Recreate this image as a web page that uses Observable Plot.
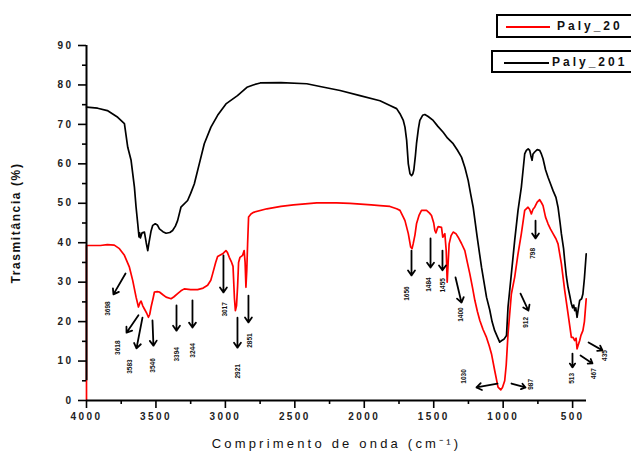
<!DOCTYPE html>
<html><head><meta charset="utf-8">
<script src="https://cdn.jsdelivr.net/npm/d3@7"></script>
<script src="https://cdn.jsdelivr.net/npm/@observablehq/plot@0.6"></script>
<style>
body{margin:0;background:#fff;overflow:hidden}
#wrap{position:relative;width:631px;height:456px;overflow:hidden;font-family:"Liberation Sans",Arial,sans-serif}
#wrap svg{position:absolute;left:0;top:0}
g[aria-label="x-axis tick label"] text, g[aria-label="y-axis tick label"] text{letter-spacing:2.4px;font-weight:bold;fill:#222}
.lg{position:absolute;border:2px solid #000;background:#fff;box-sizing:border-box}
.lg .ln{position:absolute;height:2px}
.lg .tx{position:absolute;font-size:12px;letter-spacing:3px;color:#111;font-weight:bold;line-height:12px}
</style></head><body><div id="wrap"></div><script>
// Series names
const seriesNames = ["Paly_20", "Paly_201"];
const seriesColors = ["#ff0000", "#000000"];

// Paly_20 (red): [wavenumber cm-1, transmittance %]
const paly20 = [
[4000,0],[4000,39.3],[3900,39.3],[3850,39.5],[3800,39.4],[3763,38.5],[3727,36.8],[3691,33.8],[3667,30.4],[3643,26.2],[3626,23.7],[3615,24.8],[3607,25.2],[3595,24],[3583,23.2],[3565,22],[3554,21.1],[3545,21.8],[3535,23.7],[3520,26],[3511,27.5],[3490,27.6],[3475,27.5],[3450,26.8],[3427,26.2],[3391,25.8],[3370,26.3],[3344,27.1],[3320,27.8],[3296,28.3],[3250,28.1],[3200,28.1],[3160,28.5],[3128,29.2],[3105,30.5],[3092,32.1],[3070,35],[3056,36.5],[3020,37.2],[2996,38],[2985,37.5],[2972,36.3],[2955,35],[2945,34],[2935,26],[2928,22.8],[2920,24],[2912,29],[2905,35],[2895,36.3],[2876,36.8],[2865,38],[2858,35],[2852,28.7],[2846,33],[2840,39.7],[2833,46.5],[2816,47.3],[2797,47.7],[2701,48.6],[2600,49.2],[2510,49.6],[2342,50.1],[2200,50.1],[2103,50],[1950,49.6],[1887,49.4],[1815,49.2],[1767,48.6],[1743,48.2],[1719,46.5],[1707,45.6],[1683,42.3],[1666,38.9],[1656,38.5],[1648,39.7],[1635,42],[1624,44.8],[1605,47],[1588,48.2],[1552,48.2],[1530,47.5],[1516,46.9],[1500,45],[1492,43.1],[1484,42.5],[1475,43.5],[1468,44.1],[1444,43.9],[1435,41.4],[1420,42.3],[1410,38],[1403,30],[1396,35],[1389,39.7],[1375,41.8],[1360,42.7],[1340,42.3],[1324,41.4],[1300,39.8],[1276,38],[1258,35],[1240,32.1],[1220,28.5],[1204,25.4],[1185,22.5],[1168,20.3],[1145,18],[1120,16],[1100,13.8],[1084,11.8],[1061,7.6],[1045,4.8],[1037,3.4],[1017,2.7],[1005,3.3],[989,5],[978,9],[965,16.9],[941,27],[917,31.3],[893,37.2],[869,42.3],[845,48.2],[821,49],[810,48.5],[797,47.3],[785,48.5],[773,49],[755,50.3],[737,50.9],[725,50.2],[713,49.4],[695,46.5],[677,44.8],[660,43.5],[641,42.3],[620,41],[605,39.7],[581,34.7],[557,27.9],[533,22],[509,16],[497,16],[485,15.2],[475,15.8],[468,13.1],[460,14],[449,15.2],[440,16.5],[426,17.7],[415,20],[402,25.8]
];

// Paly_201 (black)
const paly201 = [
[4000,74.4],[3920,74.1],[3850,73.5],[3775,71.8],[3727,70.2],[3703,64.2],[3679,60.9],[3655,54.1],[3643,49],[3631,44.8],[3622,41.5],[3617,42.5],[3612,41.2],[3600,42.5],[3583,42.7],[3570,40],[3559,38],[3550,40],[3535,43],[3523,44.4],[3505,44.8],[3490,44.5],[3475,43.5],[3450,42.8],[3427,42.4],[3400,42.6],[3380,43.1],[3360,44.2],[3344,45.6],[3320,49],[3272,50.7],[3250,52.5],[3224,54.9],[3188,60],[3152,65.1],[3104,69.3],[3056,72.3],[2996,75.2],[2913,77.3],[2845,79.4],[2800,80],[2749,80.5],[2600,80.6],[2414,80.3],[2318,79.6],[2174,78.6],[2031,77.3],[1887,76],[1815,74.8],[1767,74],[1743,72.7],[1719,71],[1707,69.3],[1695,66],[1683,60],[1671,57.5],[1659,57],[1650,57.5],[1643,58.5],[1632,62],[1624,65.1],[1610,69],[1600,71],[1580,72.3],[1564,72.5],[1540,72],[1504,71],[1470,69.5],[1432,68],[1400,66.5],[1360,65.1],[1330,63.5],[1300,61.7],[1275,59],[1252,55.8],[1235,52.5],[1216,49],[1187,41.4],[1156,33.8],[1120,26.2],[1097,23],[1080,20],[1061,17.7],[1040,16],[1025,14.8],[1010,15.2],[995,15.5],[976,16.5],[965,23.7],[941,32.1],[917,40.6],[893,48.2],[869,54.1],[855,59],[845,62.5],[833,63.4],[820,63.8],[809,63.4],[800,62],[792,60.9],[785,62.5],[773,63],[755,63.6],[737,63.4],[725,62.5],[713,61.3],[695,58.5],[677,56.6],[660,55],[641,53.2],[620,51.5],[605,49],[590,45],[581,42.3],[565,38.5],[557,35.5],[545,31.5],[533,28.7],[520,26.5],[509,24.5],[500,23.5],[492,24.2],[485,22.8],[477,23.5],[468,21.1],[458,23.5],[449,25.4],[435,25.8],[426,27],[415,31],[402,37.2]
];

// Tick values
const xTicks = [4000,3500,3000,2500,2000,1500,1000,500];
const xMinor = [3750,3250,2750,2250,1750,1250,750];
const yTicks = [0,10,20,30,40,50,60,70,80,90];
const yMinor = [5,15,25,35,45,55,65,75,85];

// Axis titles
const xTitle = "Comprimento de onda (cm⁻¹)";
const yTitle = "Trasmitância (%)";

// Peak annotations
const peakLabels = ["3698","3618","3583","3546","3394","3244","3017","2921","2851","1656","1484","1455","1400","1030","987","912","798","513","467","435"];
const peakLabelX = [3849,3777,3690,3525,3352,3237,3006,2913,2826,1696,1538,1437,1307,1286,803,839,789,508,350,270];
const peakLabelY = [23.3,13.4,8.6,8.9,11.7,12.7,23.1,7.4,15.2,27.1,29.4,29.2,21.8,6.1,4.1,19.8,37.3,5.6,6.8,11.4];
const arrowX1 = [3719,3626,3597,3525,3352,3237,3014,2913,2834,1660,1523,1437,1343,1041,940,875,767,501,443,385];
const arrowY1 = [32.2,21.6,21,20.3,24.1,25.4,36.8,21,26.6,38,41.1,38,31.2,4.3,4.3,27.1,45.6,11.9,11.4,14.7];
const arrowX2 = [3806,3712,3640,3518,3352,3237,3014,2913,2834,1660,1523,1437,1300,1192,839,818,767,501,357,285];
const arrowY2 = [26.9,17.2,13.2,13.9,17.7,18.5,27.4,13.4,19.8,31.7,33.7,33,24.8,3.3,3.3,22.8,41.1,8.4,9.4,12.7];

const peaks = peakLabels.map((t,i)=>({t, lx:peakLabelX[i], ly:peakLabelY[i], x1:arrowX1[i], y1:arrowY1[i], x2:arrowX2[i], y2:arrowY2[i]}));
const d20 = paly20.map(([x,y])=>({x,y}));
const d201 = paly201.map(([x,y])=>({x,y}));

const chart = Plot.plot({
  width: 631, height: 456,
  marginLeft: 86, marginRight: 45, marginTop: 45, marginBottom: 56,
  x: {domain: [4000, 400]},
  y: {domain: [0, 90]},
  style: {fontFamily: '"Liberation Sans", Arial, sans-serif', fontSize: "10px", color: "#000", background: "transparent", overflow: "visible"},
  marks: [
    Plot.line(d20, {x: "x", y: "y", stroke: seriesColors[0], strokeWidth: 1.7, curve: "linear"}),
    Plot.line(d201, {x: "x", y: "y", stroke: seriesColors[1], strokeWidth: 1.7, curve: "linear"}),
    Plot.ruleX([4000], {y1: 5, y2: 90, stroke: "#000", strokeWidth: 2}),
    Plot.ruleY([0], {x1: 4000, x2: 400, stroke: "#000", strokeWidth: 2}),
    Plot.axisX(xTicks, {tickSize: 8, tickPadding: 4, strokeWidth: 1.6, fontSize: 10, label: null, tickFormat: d => String(d)}),
    Plot.axisX(xMinor, {tickSize: 4, strokeWidth: 1.6, tickFormat: () => "", label: null}),
    Plot.axisY(yTicks, {tickSize: 8, tickPadding: 5, strokeWidth: 1.6, fontSize: 10, label: null}),
    Plot.axisY(yMinor, {tickSize: 4, strokeWidth: 1.6, tickFormat: () => "", label: null}),
    Plot.arrow(peaks, {x1: "x1", y1: "y1", x2: "x2", y2: "y2", stroke: "#000", strokeWidth: 1.8, headLength: 5, headAngle: 70}),
    Plot.text(peaks, {x: "lx", y: "ly", text: "t", rotate: -90, fontSize: 6.5, fontWeight: "bold", fill: "#111"}),
    Plot.text([xTitle], {frameAnchor: "bottom", dy: 47, fontSize: 13, fill: "#111", textAnchor: "middle"}),
    Plot.text([yTitle], {frameAnchor: "left", dx: -70, rotate: -90, fontSize: 12, fill: "#111", fontWeight: "bold", textAnchor: "middle"})
  ]
});
const wrap = document.getElementById("wrap");
wrap.appendChild(chart);
// letter spacing for titles
d3.select(chart).selectAll("text").each(function(){
  const t = this.textContent;
  if (t === xTitle) this.style.letterSpacing = "3.2px";
  if (t === yTitle) this.style.letterSpacing = "1.6px";
});

// Legend boxes
const legendBoxes = [
  {left: 496, top: 14, h: 24, lineL: 8, lineW: 44, textL: 59},
  {left: 491, top: 50, h: 23, lineL: 11, lineW: 45, textL: 59}
];
seriesNames.forEach((name, i) => {
  const b = legendBoxes[i];
  const box = document.createElement("div");
  box.className = "lg";
  box.style.left = b.left + "px"; box.style.top = b.top + "px";
  box.style.width = (640 - b.left) + "px"; box.style.height = b.h + "px";
  const ln = document.createElement("div");
  ln.className = "ln"; ln.style.left = b.lineL + "px"; ln.style.width = b.lineW + "px";
  ln.style.top = (b.h/2 - 2) + "px"; ln.style.background = seriesColors[i];
  const tx = document.createElement("div");
  tx.className = "tx"; tx.style.left = b.textL + "px"; tx.style.top = (b.h/2 - 8) + "px";
  tx.textContent = name;
  box.appendChild(ln); box.appendChild(tx);
  wrap.appendChild(box);
});
</script></body></html>
